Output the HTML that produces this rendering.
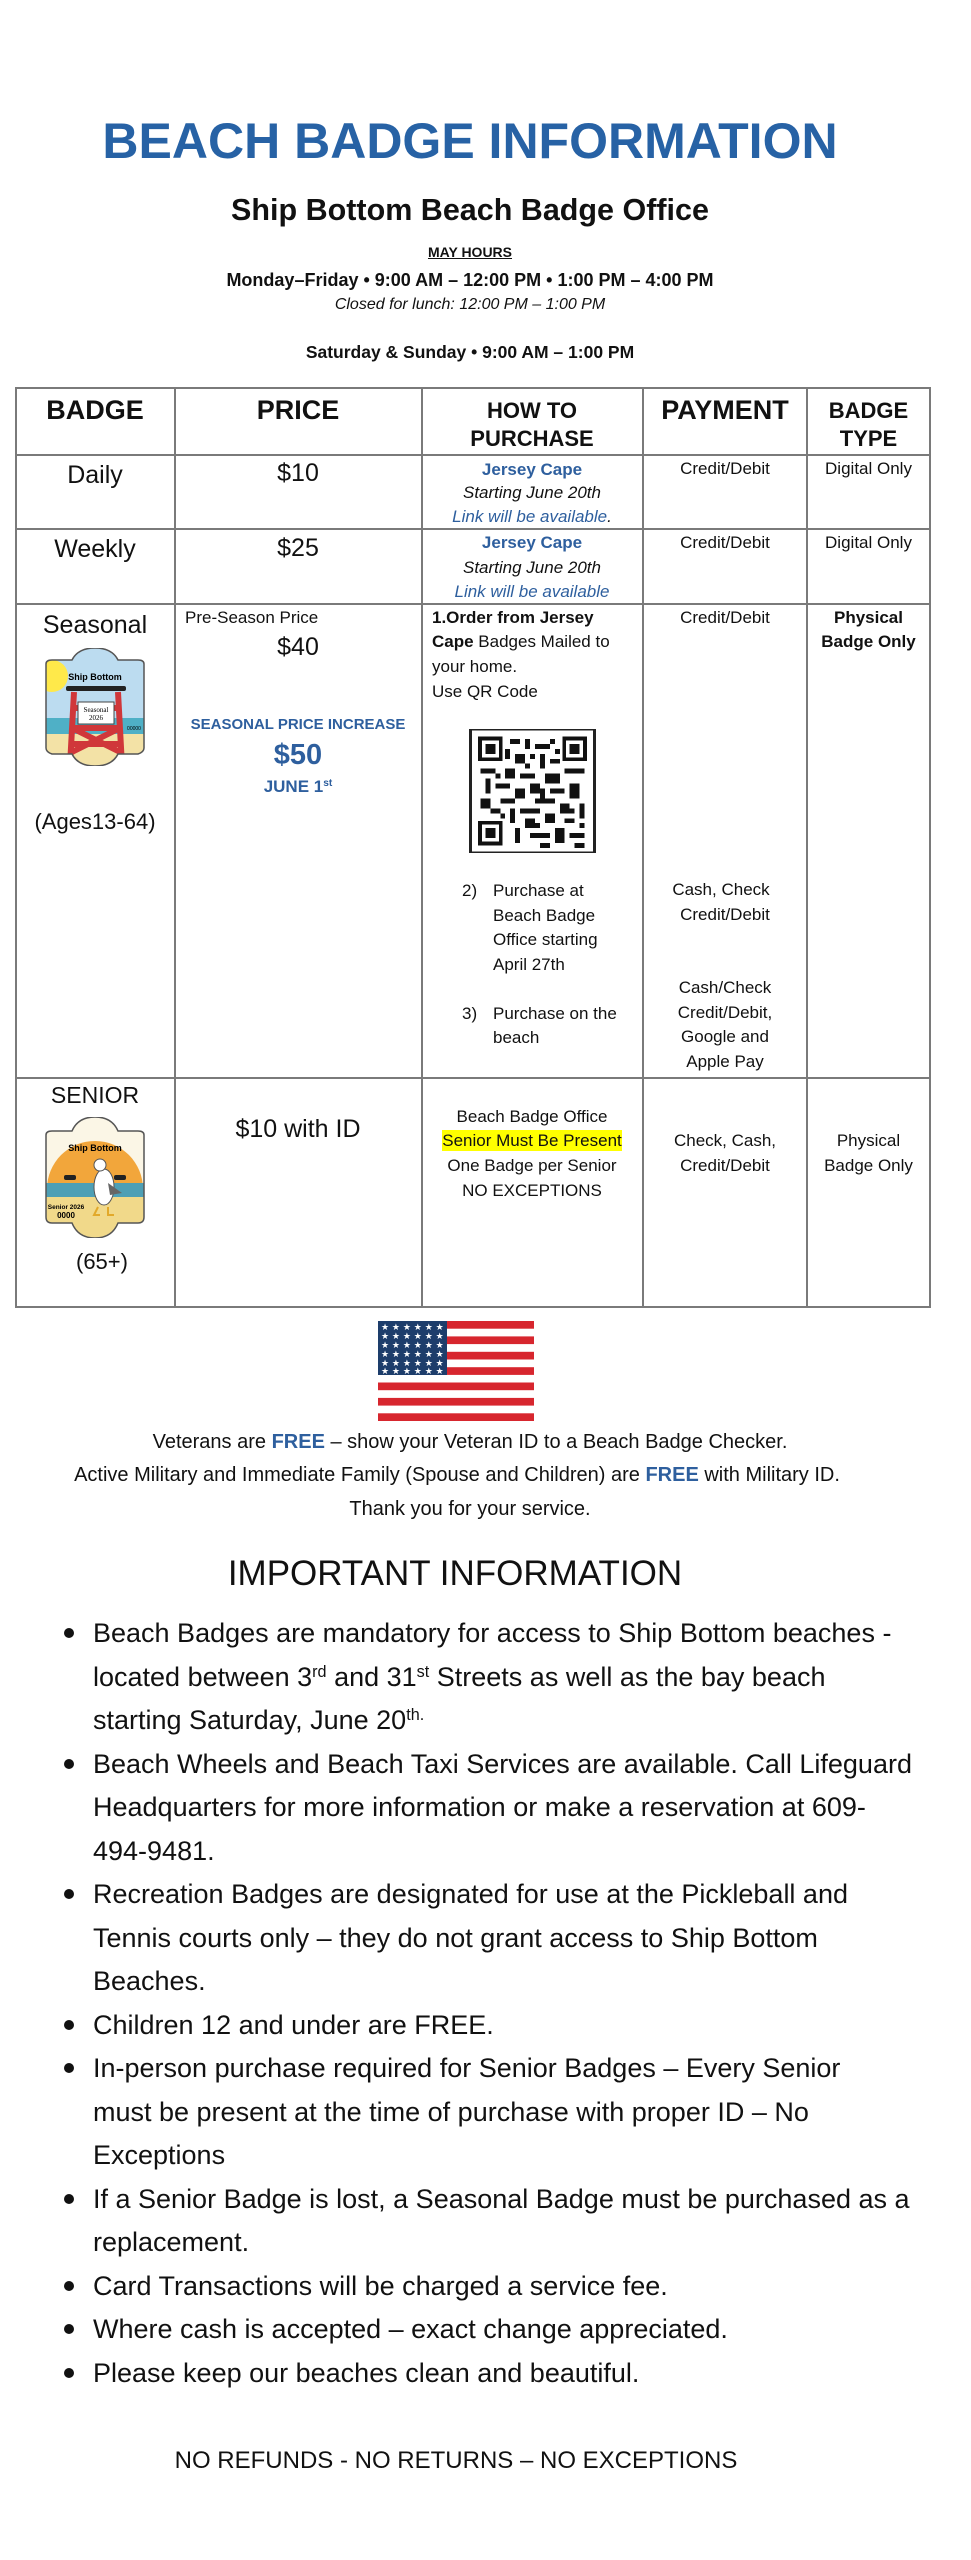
<!DOCTYPE html>
<html><head><meta charset="utf-8">
<style>
*{margin:0;padding:0;box-sizing:border-box}
html,body{width:971px;height:2560px;background:#fff;overflow:hidden}
body{position:relative;font-family:"Liberation Sans",sans-serif;color:#111}
.t{position:absolute;white-space:nowrap;line-height:1}
.c{text-align:center}
.b{font-weight:bold}
.i{font-style:italic}
.blue{color:#2e5f9e}
.ln{position:absolute;background:#7a7a7a}
.bl{position:absolute;left:93px;font-size:27px;line-height:1;white-space:nowrap}
.dot{position:absolute;left:64px;width:10px;height:10px;border-radius:50%;background:#111}
sup{font-size:0.6em;vertical-align:0;position:relative;top:-0.55em}
</style></head><body>

<!-- Header -->
<div class="t c b" style="left:70px;width:800px;top:116px;font-size:50px;color:#2762a5">BEACH BADGE INFORMATION</div>
<div class="t c b" style="left:170px;width:600px;top:195px;font-size:30.5px">Ship Bottom Beach Badge Office</div>
<div class="t c b" style="left:370px;width:200px;top:245px;font-size:14px;text-decoration:underline">MAY HOURS</div>
<div class="t c b" style="left:120px;width:700px;top:271px;font-size:18px">Monday–Friday • 9:00 AM – 12:00 PM • 1:00 PM – 4:00 PM</div>
<div class="t c i" style="left:270px;width:400px;top:297px;font-size:16px">Closed for lunch: 12:00 PM – 1:00 PM</div>
<div class="t c b" style="left:220px;width:500px;top:344px;font-size:17.5px">Saturday &amp; Sunday • 9:00 AM – 1:00 PM</div>

<!-- Table grid -->
<div class="ln" style="left:15px;top:387px;width:916px;height:2px"></div>
<div class="ln" style="left:15px;top:454px;width:916px;height:2px"></div>
<div class="ln" style="left:15px;top:528px;width:916px;height:2px"></div>
<div class="ln" style="left:15px;top:603px;width:916px;height:2px"></div>
<div class="ln" style="left:15px;top:1077px;width:916px;height:2px"></div>
<div class="ln" style="left:15px;top:1306px;width:916px;height:2px"></div>
<div class="ln" style="left:15px;top:387px;width:2px;height:921px"></div>
<div class="ln" style="left:174px;top:387px;width:2px;height:921px"></div>
<div class="ln" style="left:421px;top:387px;width:2px;height:921px"></div>
<div class="ln" style="left:642px;top:387px;width:2px;height:921px"></div>
<div class="ln" style="left:806px;top:387px;width:2px;height:921px"></div>
<div class="ln" style="left:929px;top:387px;width:2px;height:921px"></div>

<!-- Header row -->
<div class="t c b" style="left:20px;width:150px;top:397px;font-size:27px">BADGE</div>
<div class="t c b" style="left:198px;width:200px;top:397px;font-size:27px">PRICE</div>
<div class="t c b" style="left:432px;width:200px;top:400px;font-size:22px">HOW TO</div>
<div class="t c b" style="left:432px;width:200px;top:428px;font-size:22px">PURCHASE</div>
<div class="t c b" style="left:644px;width:162px;top:397px;font-size:27px">PAYMENT</div>
<div class="t c b" style="left:808px;width:121px;top:400px;font-size:22px">BADGE</div>
<div class="t c b" style="left:808px;width:121px;top:428px;font-size:22px">TYPE</div>

<!-- Daily -->
<div class="t c" style="left:20px;width:150px;top:463px;font-size:25px">Daily</div>
<div class="t c" style="left:198px;width:200px;top:461px;font-size:25px">$10</div>
<div class="t c b blue" style="left:432px;width:200px;top:461px;font-size:17px">Jersey Cape</div>
<div class="t c i" style="left:432px;width:200px;top:484px;font-size:17px">Starting June 20th</div>
<div class="t c i blue" style="left:432px;width:200px;top:508px;font-size:17px">Link will be available<span style="color:#111">.</span></div>
<div class="t c" style="left:644px;width:162px;top:460px;font-size:17px">Credit/Debit</div>
<div class="t c" style="left:808px;width:121px;top:460px;font-size:17px">Digital Only</div>

<!-- Weekly -->
<div class="t c" style="left:20px;width:150px;top:537px;font-size:25px">Weekly</div>
<div class="t c" style="left:198px;width:200px;top:536px;font-size:25px">$25</div>
<div class="t c b blue" style="left:432px;width:200px;top:534px;font-size:17px">Jersey Cape</div>
<div class="t c i" style="left:432px;width:200px;top:559px;font-size:17px">Starting June 20th</div>
<div class="t c i blue" style="left:432px;width:200px;top:583px;font-size:17px">Link will be available</div>
<div class="t c" style="left:644px;width:162px;top:534px;font-size:17px">Credit/Debit</div>
<div class="t c" style="left:808px;width:121px;top:534px;font-size:17px">Digital Only</div>

<!-- Seasonal -->
<div class="t c" style="left:20px;width:150px;top:613px;font-size:25px">Seasonal</div>
<svg style="position:absolute;left:38px;top:648px" width="114" height="118" viewBox="0 0 114 118">
  <defs><clipPath id="cs"><path d="M8 16 Q8 12 14 12 L34 12 Q40 0 57 0 Q74 0 80 12 L100 12 Q106 12 106 16 L106 100 Q106 104 100 106 L80 106 Q74 118 57 118 Q40 118 34 106 L14 106 Q8 104 8 100 Z"/></clipPath></defs>
  <g clip-path="url(#cs)">
    <rect width="114" height="118" fill="#bcdcf0"/>
    <rect x="0" y="70" width="114" height="16" fill="#4fb0c6"/>
    <rect x="0" y="86" width="114" height="32" fill="#f3e2a6"/>
    <circle cx="14" cy="28" r="16" fill="#ffe94a"/>
    <rect x="28" y="38" width="60" height="5" rx="2" fill="#222"/>
    <path d="M36 44 L32 118 M80 44 L84 118 M36 60 L80 60 M34 80 L82 80 M34 80 L82 104 M82 80 L34 104 M35 96 L81 96" stroke="#d0373a" stroke-width="6" fill="none"/>
    <rect x="40" y="54" width="36" height="22" fill="#fff" stroke="#444"/>
  </g>
  <path d="M8 16 Q8 12 14 12 L34 12 Q40 0 57 0 Q74 0 80 12 L100 12 Q106 12 106 16 L106 100 Q106 104 100 106 L80 106 Q74 118 57 118 Q40 118 34 106 L14 106 Q8 104 8 100 Z" fill="none" stroke="#555" stroke-width="1.5"/>
  <text x="58" y="64" font-size="7" text-anchor="middle" font-family="Liberation Serif,serif">Seasonal</text>
  <text x="58" y="72" font-size="7" text-anchor="middle" font-family="Liberation Serif,serif">2026</text>
  <text x="57" y="32" font-size="9" font-weight="bold" text-anchor="middle" font-family="Liberation Sans,sans-serif">Ship Bottom</text>
  <text x="96" y="82" font-size="5" text-anchor="middle" font-family="Liberation Sans,sans-serif">00000</text>
</svg>
<div class="t c" style="left:20px;width:150px;top:811px;font-size:22px">(Ages13-64)</div>

<div class="t" style="left:185px;top:609px;font-size:17px">Pre-Season Price</div>
<div class="t c" style="left:198px;width:200px;top:635px;font-size:25px">$40</div>
<div class="t c b blue" style="left:178px;width:240px;top:717px;font-size:15px">SEASONAL PRICE INCREASE</div>
<div class="t c b blue" style="left:198px;width:200px;top:741px;font-size:29px">$50</div>
<div class="t c b blue" style="left:198px;width:200px;top:778px;font-size:17px">JUNE 1<sup>st</sup></div>

<div class="t" style="left:432px;top:609px;font-size:17px"><b>1.Order from Jersey</b></div>
<div class="t" style="left:432px;top:633px;font-size:17px"><b>Cape</b> Badges Mailed to</div>
<div class="t" style="left:432px;top:658px;font-size:17px">your home.</div>
<div class="t" style="left:432px;top:683px;font-size:17px">Use QR Code</div>
<svg style="position:absolute;left:469px;top:729px" width="127" height="124" viewBox="0 0 25 25" shape-rendering="crispEdges">
  <rect x="0" y="0" width="25" height="25" fill="#fff" stroke="#222" stroke-width="0.6"/>
  <g fill="#111">
    <rect x="1.5" y="1.5" width="5" height="5"/><rect x="18.5" y="1.5" width="5" height="5"/><rect x="1.5" y="18.5" width="5" height="5"/>
  </g>
  <g fill="#fff"><rect x="2.3" y="2.3" width="3.4" height="3.4"/><rect x="19.3" y="2.3" width="3.4" height="3.4"/><rect x="2.3" y="19.3" width="3.4" height="3.4"/></g>
  <g fill="#111"><rect x="3" y="3" width="2" height="2"/><rect x="20" y="3" width="2" height="2"/><rect x="3" y="20" width="2" height="2"/></g>
  <path fill="#111" d="M8 2h2v1H8zM11 2h1v2h-1zM13 3h3v1h-3zM9 5h2v2H9zM14 5h1v3h-1zM16 6h2v1h-2zM2 8h3v1H2zM7 8h2v2H7zM10 9h3v1h-3zM15 9h3v2h-3zM19 8h4v1h-4zM3 10h1v3H3zM5 11h3v1H5zM12 11h2v2h-2zM20 11h2v3h-2zM9 12h2v2H9zM16 12h3v1h-3zM2 14h2v2H2zM6 14h3v1H6zM13 14h3v1h-3zM18 15h2v2h-2zM22 15h1v3h-1zM8 16h1v3H8zM10 16h4v1h-4zM15 17h2v2h-2zM11 18h2v2h-2zM19 18h2v1h-2zM9 20h1v3H9zM12 21h4v1h-4zM17 20h2v3h-2zM20 21h3v1h-3zM14 23h2v1h-2zM21 23h2v1h-2zM5 9h1v1H5zM17 4h1v1h-1zM11 7h1v1h-1zM7 4h1v2H7zM12 5h1v1h-1zM16 2h1v1h-1zM10 13h1v1h-1zM14 12h1v2h-1zM6 17h1v1H6zM4 16h2v1H4zM13 19h1v1h-1zM20 16h1v1h-1zM16 14h1v1h-1zM22 19h1v1h-1z"/>
</svg>

<div class="t" style="left:462px;top:882px;font-size:17px">2)</div>
<div class="t" style="left:493px;top:882px;font-size:17px">Purchase at</div>
<div class="t" style="left:493px;top:907px;font-size:17px">Beach Badge</div>
<div class="t" style="left:493px;top:931px;font-size:17px">Office starting</div>
<div class="t" style="left:493px;top:956px;font-size:17px">April 27th</div>
<div class="t" style="left:462px;top:1005px;font-size:17px">3)</div>
<div class="t" style="left:493px;top:1005px;font-size:17px">Purchase on the</div>
<div class="t" style="left:493px;top:1029px;font-size:17px">beach</div>

<div class="t c" style="left:644px;width:162px;top:609px;font-size:17px">Credit/Debit</div>
<div class="t c" style="left:640px;width:162px;top:881px;font-size:17px">Cash, Check</div>
<div class="t c" style="left:644px;width:162px;top:906px;font-size:17px">Credit/Debit</div>
<div class="t c" style="left:644px;width:162px;top:979px;font-size:17px">Cash/Check</div>
<div class="t c" style="left:644px;width:162px;top:1004px;font-size:17px">Credit/Debit,</div>
<div class="t c" style="left:644px;width:162px;top:1028px;font-size:17px">Google and</div>
<div class="t c" style="left:644px;width:162px;top:1053px;font-size:17px">Apple Pay</div>

<div class="t c b" style="left:808px;width:121px;top:609px;font-size:17px">Physical</div>
<div class="t c b" style="left:808px;width:121px;top:633px;font-size:17px">Badge Only</div>

<!-- Senior -->
<div class="t c" style="left:20px;width:150px;top:1084px;font-size:23px">SENIOR</div>
<svg style="position:absolute;left:38px;top:1117px" width="114" height="121" viewBox="0 0 114 121">
  <defs><clipPath id="cp"><path d="M8 18 Q8 14 14 14 L34 14 Q40 0 57 0 Q74 0 80 14 L100 14 Q106 14 106 18 L106 100 Q106 106 100 106 L80 106 Q74 121 57 121 Q40 121 34 106 L14 106 Q8 106 8 100 Z"/></clipPath></defs>
  <g clip-path="url(#cp)">
    <rect x="0" y="0" width="114" height="121" fill="#fbf6e6"/>
    <circle cx="57" cy="72" r="48" fill="#f2a63b"/>
    <rect x="0" y="66" width="114" height="14" fill="#4e9fb5"/>
    <rect x="0" y="80" width="114" height="41" fill="#f1d98a"/>
    <ellipse cx="66" cy="70" rx="10" ry="18" fill="#fff" stroke="#555"/>
    <circle cx="62" cy="48" r="6" fill="#fff" stroke="#555"/>
    <path d="M70 66 L84 76 L72 78 Z" fill="#666"/>
    <path d="M60 90 L56 98 L62 98 M70 90 L70 98 L76 98" stroke="#e2a92a" stroke-width="2" fill="none"/>
    <rect x="26" y="58" width="12" height="5" rx="2" fill="#222"/>
    <rect x="76" y="58" width="12" height="5" rx="2" fill="#222"/>
  </g>
  <path d="M8 18 Q8 14 14 14 L34 14 Q40 0 57 0 Q74 0 80 14 L100 14 Q106 14 106 18 L106 100 Q106 106 100 106 L80 106 Q74 121 57 121 Q40 121 34 106 L14 106 Q8 106 8 100 Z" fill="none" stroke="#555" stroke-width="1.5"/>
  <text x="57" y="34" font-size="9" font-weight="bold" text-anchor="middle" font-family="Liberation Sans,sans-serif">Ship Bottom</text>
  <text x="28" y="92" font-size="6.5" font-weight="bold" text-anchor="middle" font-family="Liberation Sans,sans-serif">Senior 2026</text>
  <text x="28" y="101" font-size="8" font-weight="bold" text-anchor="middle" font-family="Liberation Sans,sans-serif">0000</text>
</svg>
<div class="t c" style="left:40px;width:124px;top:1251px;font-size:22px">(65+)</div>

<div class="t c" style="left:178px;width:240px;top:1117px;font-size:25px">$10 with ID</div>
<div class="t c" style="left:432px;width:200px;top:1108px;font-size:17px">Beach Badge Office</div>
<div class="t c" style="left:432px;width:200px;top:1132px;font-size:17px"><span style="background:#ffff00;padding:1px 0">Senior Must Be Present</span></div>
<div class="t c" style="left:432px;width:200px;top:1157px;font-size:17px">One Badge per Senior</div>
<div class="t c" style="left:432px;width:200px;top:1182px;font-size:17px">NO EXCEPTIONS</div>
<div class="t c" style="left:644px;width:162px;top:1132px;font-size:17px">Check, Cash,</div>
<div class="t c" style="left:644px;width:162px;top:1157px;font-size:17px">Credit/Debit</div>
<div class="t c" style="left:808px;width:121px;top:1132px;font-size:17px">Physical</div>
<div class="t c" style="left:808px;width:121px;top:1157px;font-size:17px">Badge Only</div>

<!-- Flag -->
<svg style="position:absolute;left:378px;top:1321px" width="156" height="100" viewBox="0 0 156 100">
  <rect width="156" height="100" fill="#fff"/>
  <g fill="#d7262e">
    <rect y="0" width="156" height="7.7"/><rect y="15.4" width="156" height="7.7"/><rect y="30.8" width="156" height="7.7"/><rect y="46.2" width="156" height="7.7"/><rect y="61.5" width="156" height="7.7"/><rect y="76.9" width="156" height="7.7"/><rect y="92.3" width="156" height="7.7"/>
  </g>
  <rect width="69" height="54" fill="#1d3d6b"/>
  <g fill="#fff" font-size="9" font-family="DejaVu Sans,sans-serif">
    <text x="3" y="9">★ ★ ★ ★ ★ ★</text><text x="3" y="18">★ ★ ★ ★ ★ ★</text><text x="3" y="27">★ ★ ★ ★ ★ ★</text><text x="3" y="36">★ ★ ★ ★ ★ ★</text><text x="3" y="45">★ ★ ★ ★ ★ ★</text><text x="3" y="53">★ ★ ★ ★ ★ ★</text>
  </g>
</svg>

<div class="t c" style="left:0;width:940px;top:1432px;font-size:20px">Veterans are <b class="blue">FREE</b> – show your Veteran ID to a Beach Badge Checker.</div>
<div class="t c" style="left:0;width:914px;top:1465px;font-size:20px">Active Military and Immediate Family (Spouse and Children) are <b class="blue">FREE</b> with Military ID.</div>
<div class="t c" style="left:0;width:940px;top:1499px;font-size:20px">Thank you for your service.</div>

<div class="t c" style="left:155px;width:600px;top:1556px;font-size:35px">IMPORTANT INFORMATION</div>

<div class="dot" style="top:1628px"></div>
<div class="bl" style="top:1620px">Beach Badges are mandatory for access to Ship Bottom beaches -</div>
<div class="bl" style="top:1664px">located between 3<sup>rd</sup> and 31<sup>st</sup> Streets as well as the bay beach</div>
<div class="bl" style="top:1707px">starting Saturday, June 20<sup>th.</sup></div>
<div class="dot" style="top:1759px"></div>
<div class="bl" style="top:1751px">Beach Wheels and Beach Taxi Services are available. Call Lifeguard</div>
<div class="bl" style="top:1794px">Headquarters for more information or make a reservation at 609-</div>
<div class="bl" style="top:1838px">494-9481.</div>
<div class="dot" style="top:1889px"></div>
<div class="bl" style="top:1881px">Recreation Badges are designated for use at the Pickleball and</div>
<div class="bl" style="top:1925px">Tennis courts only – they do not grant access to Ship Bottom</div>
<div class="bl" style="top:1968px">Beaches.</div>
<div class="dot" style="top:2020px"></div>
<div class="bl" style="top:2012px">Children 12 and under are FREE.</div>
<div class="dot" style="top:2063px"></div>
<div class="bl" style="top:2055px">In-person purchase required for Senior Badges – Every Senior</div>
<div class="bl" style="top:2099px">must be present at the time of purchase with proper ID – No</div>
<div class="bl" style="top:2142px">Exceptions</div>
<div class="dot" style="top:2194px"></div>
<div class="bl" style="top:2186px">If a Senior Badge is lost, a Seasonal Badge must be purchased as a</div>
<div class="bl" style="top:2229px">replacement.</div>
<div class="dot" style="top:2281px"></div>
<div class="bl" style="top:2273px">Card Transactions will be charged a service fee.</div>
<div class="dot" style="top:2324px"></div>
<div class="bl" style="top:2316px">Where cash is accepted – exact change appreciated.</div>
<div class="dot" style="top:2368px"></div>
<div class="bl" style="top:2360px">Please keep our beaches clean and beautiful.</div>

<div class="t c" style="left:156px;width:600px;top:2449px;font-size:24px">NO REFUNDS - NO RETURNS – NO EXCEPTIONS</div>

</body></html>
